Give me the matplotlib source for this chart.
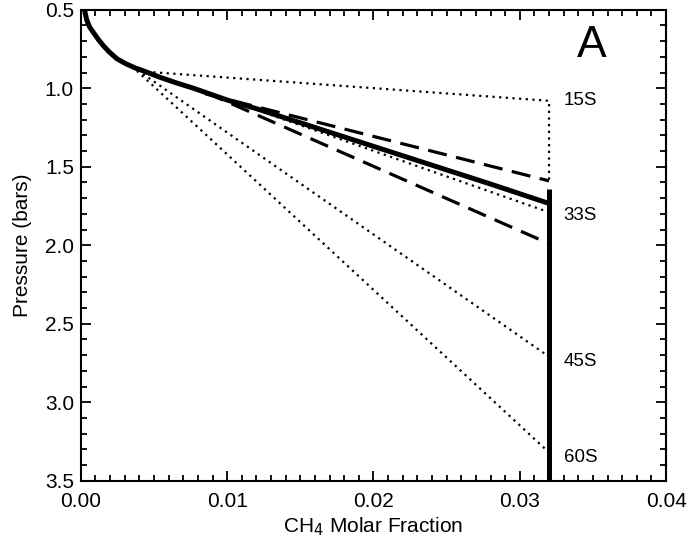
import numpy as np
import matplotlib.pyplot as plt
from matplotlib.ticker import MultipleLocator

plt.rcParams['font.family'] = ['Liberation Sans', 'DejaVu Sans']

# main profile (thick solid)
curve_x = [0.00025, 0.0004, 0.0006, 0.00086, 0.0012, 0.00155, 0.0019, 0.00246,
           0.0031, 0.0037, 0.0043, 0.0054, 0.0065, 0.0077,
           0.0100, 0.0120, 0.016, 0.020, 0.024, 0.028, 0.032]
curve_p = [0.50, 0.565, 0.61, 0.645, 0.69, 0.73, 0.765, 0.812,
           0.845, 0.87, 0.89, 0.93, 0.965, 1.00,
           1.075, 1.13, 1.25, 1.37, 1.49, 1.61, 1.734]
wall_x = [0.032, 0.032]
wall_p = [1.64, 3.50]

# dashed bounds
dash_hi_x = [0.0085, 0.032]
dash_hi_p = [1.035, 1.59]
dash_lo_x = [0.0085, 0.032]
dash_lo_p = [1.025, 1.99]

# dotted latitude profiles
lat_names = ['15S', '33S', '45S', '60S']
lat_x = [[0.0045, 0.032, 0.032],
         [0.0035, 0.032],
         [0.0035, 0.032],
         [0.0035, 0.032]]
lat_p = [[0.895, 1.08, 1.60],
         [0.86, 1.79],
         [0.86, 2.71],
         [0.86, 3.32]]
label_p = [1.08, 1.81, 2.74, 3.35]

fig = plt.figure(figsize=(6.91, 5.42), dpi=100)
ax = fig.add_axes([0.117, 0.113, 0.847, 0.869])

for xs, ps in zip(lat_x, lat_p):
    ax.plot(xs, ps, color='black', lw=1.6, linestyle=(0, (1, 2.0)))
ax.plot(dash_hi_x, dash_hi_p, color='black', lw=2.3, linestyle=(0, (6, 3)))
ax.plot(dash_lo_x, dash_lo_p, color='black', lw=2.3, linestyle=(0, (6, 3)))
ax.plot(curve_x, curve_p, color='black', lw=3.6, solid_capstyle='butt',
        solid_joinstyle='round')
ax.plot(wall_x, wall_p, color='black', lw=3.6, solid_capstyle='butt')

for name, p in zip(lat_names, label_p):
    ax.text(0.033, p, name, fontsize=13.5, ha='left', va='center')

ax.text(0.0349, 0.73, 'A', fontsize=32, ha='center', va='center')

ax.set_xlim(0, 0.04)
ax.set_ylim(3.5, 0.5)
ax.set_xticks([0.00, 0.01, 0.02, 0.03, 0.04])
ax.set_xticklabels(['0.00', '0.01', '0.02', '0.03', '0.04'])
ax.set_yticks([0.5, 1.0, 1.5, 2.0, 2.5, 3.0, 3.5])
ax.xaxis.set_minor_locator(MultipleLocator(0.001))
ax.yaxis.set_minor_locator(MultipleLocator(0.1))
ax.tick_params(which='both', direction='in', top=True, right=True, width=1.3,
               labelsize=15)
ax.tick_params(axis='x', which='major', pad=8)
ax.tick_params(axis='y', which='major', pad=5)
ax.tick_params(which='major', length=7)
ax.tick_params(which='minor', length=4)
for s in ax.spines.values():
    s.set_linewidth(1.5)

ax.set_xlabel('CH$_4$ Molar Fraction', fontsize=15, labelpad=3)
ax.set_ylabel('Pressure (bars)', fontsize=15, labelpad=9)

fig.savefig('out.png', dpi=100)
